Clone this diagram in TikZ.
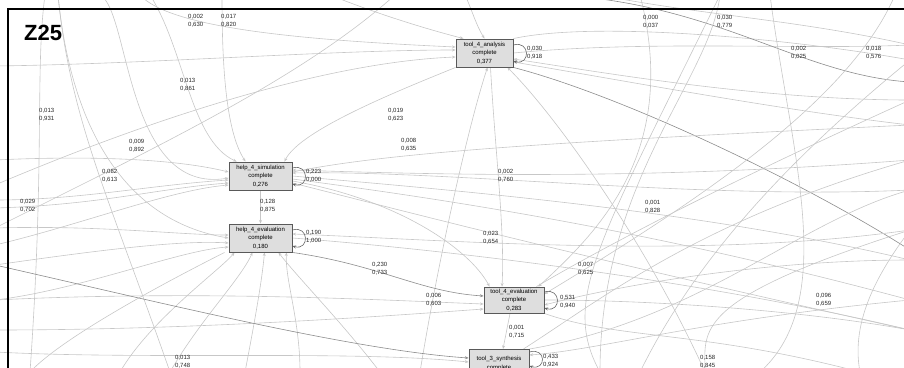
\documentclass[tikz,border=0pt]{standalone}
\usepackage{fontspec}
\setmainfont{Liberation Sans}
\usetikzlibrary{arrows.meta,backgrounds}

\begin{document}
\begin{tikzpicture}[x=1pt,y=-1pt,
  act/.style={draw=black!65,fill=black!13,line width=.9pt,minimum height=28pt,inner sep=0pt,align=center,font=\fontsize{6}{8.3}\selectfont},
  lbl/.style={anchor=north west,inner sep=0pt,align=left,text=black!85,font=\fontsize{6}{7.8}\selectfont},
  flow/.style={draw=black!22,line width=.6pt,-{Stealth[length=3.6pt,width=3pt]}},
  thru/.style={draw=black!22,line width=.6pt},
  dark/.style={draw=black!45},
  selfloop/.style={draw=black!60,line width=.6pt,-{Stealth[length=3.6pt,width=3pt]}}]
\path[use as bounding box] (0,0) rectangle (904,367);

% activities
\node[act,minimum width=57pt] (t4a) at (484.5,53) {tool\_4\_analysis\\complete\\0,377};
\node[act,minimum width=63pt] (h4s) at (260.5,176) {help\_4\_simulation\\complete\\0,276};
\node[act,minimum width=63pt] (h4e) at (260.5,238) {help\_4\_evaluation\\complete\\0,180};
\node[act,minimum width=60pt,minimum height=26pt] (t4e) at (514,300) {tool\_4\_evaluation\\complete\\0,283};
\node[act,minimum width=60pt,anchor=north] (t3s) at (499,349) {tool\_3\_synthesis\\complete};

% free ends outside the frame
\coordinate (n1) at (45,-5);   \coordinate (n2) at (58,-5);   \coordinate (n3) at (100,-5);
\coordinate (n4) at (140,-5);  \coordinate (n5) at (150,-5);  \coordinate (n6) at (222,-5);
\coordinate (n7) at (330,-5);  \coordinate (n8) at (395,-5);  \coordinate (n9) at (465,-5);
\coordinate (n10) at (560,-5); \coordinate (n11) at (640,-5); \coordinate (n12) at (720,-5);
\coordinate (n13) at (770,-5); \coordinate (n14) at (895,-5); \coordinate (n15) at (600,-5);
\coordinate (w1) at (-5,66);   \coordinate (w2) at (-5,130);  \coordinate (w3) at (-5,200);
\coordinate (w4) at (-5,208);  \coordinate (w5) at (-5,228);  \coordinate (w6) at (-5,245);
\coordinate (w7) at (-5,265);  \coordinate (w8) at (-5,300);  \coordinate (w9) at (-5,185);
\coordinate (w10) at (-5,330); \coordinate (w11) at (-5,352); \coordinate (w12) at (-5,160);
\coordinate (e1) at (910,45);  \coordinate (e2) at (910,82);  \coordinate (e3) at (910,100);
\coordinate (e4) at (910,125); \coordinate (e5) at (910,160); \coordinate (e6) at (910,190);
\coordinate (e7) at (910,230); \coordinate (e8) at (910,260); \coordinate (e9) at (910,300);
\coordinate (e10) at (910,330); \coordinate (e11) at (910,250); \coordinate (e12) at (910,60);
\coordinate (s1) at (30,372);  \coordinate (s2) at (120,372); \coordinate (s3) at (170,372);
\coordinate (s4) at (245,372); \coordinate (s5) at (300,372); \coordinate (s6) at (380,372);
\coordinate (s7) at (420,372); \coordinate (s8) at (600,372); \coordinate (s9) at (705,372);
\coordinate (s10) at (760,372); \coordinate (s11) at (860,372); \coordinate (s12) at (640,372);

\begin{pgfonlayer}{background}
% into tool_4_analysis
\draw[flow] (w1) .. controls (150,64) and (330,50) .. ([yshift=3pt]t4a.west);
\draw[flow] (n4) .. controls (170,28) and (300,40) .. ([yshift=6pt]t4a.west);
\draw[flow] (w9) .. controls (160,115) and (330,62) .. ([yshift=-4pt]t4a.west);
\draw[flow] (n7) .. controls (380,15) and (430,30) .. ([xshift=8pt]t4a.north west);
\draw[flow] (n9) .. controls (472,10) and (476,25) .. (t4a.north);
\draw[flow] (s7) .. controls (440,250) and (470,120) .. ([xshift=3pt]t4a.south);
\draw[flow] (s9) .. controls (650,250) and (560,120) .. ([xshift=-6pt]t4a.south east);
\draw[flow] (e3) .. controls (760,100) and (600,72) .. ([yshift=-6pt]t4a.east);
\draw[flow] (e4) .. controls (780,110) and (620,80) .. ([yshift=-9pt]t4a.east);
% out of tool_4_analysis
\draw[thru,dark] (t4a.south east) .. controls (620,95) and (800,180) .. (e11);
\draw[flow] ([xshift=6pt]t4a.south) .. controls (495,150) and (505,230) .. ([xshift=-12pt]t4e.north);
\draw[flow] (t4a.south west) .. controls (400,90) and (300,130) .. ([xshift=-8pt]h4s.north east);
\draw[thru] (t4a.east) .. controls (650,40) and (800,50) .. (e1);
\draw[thru] (t4a.north east) .. controls (600,20) and (800,40) .. (e12);
% across the top
\draw[thru,dark] (n10) .. controls (720,5) and (800,75) .. (e2);
\draw[thru] (n15) .. controls (700,15) and (800,20) .. (e1);
\draw[flow] (n11) .. controls (680,150) and (600,230) .. ([xshift=-6pt]t4e.north east);
\draw[thru] (n12) .. controls (710,80) and (600,180) .. (s8);
\draw[thru] (n13) .. controls (790,150) and (840,300) .. (s10);
\draw[flow] (n14) .. controls (850,100) and (700,200) .. ([yshift=6pt]t4e.east);
\draw[thru] (n8) .. controls (300,80) and (150,150) .. (w5);
\draw[thru] (n1) .. controls (35,70) and (45,160) .. (s1);
\draw[thru] (n2) .. controls (70,120) and (110,200) .. (s3);
% into help_4_simulation
\draw[flow] (w3) .. controls (80,200) and (150,185) .. ([yshift=-4pt]h4s.west);
\draw[flow] (w4) .. controls (100,205) and (160,188) .. ([yshift=-7pt]h4s.west);
\draw[flow] (n3) .. controls (130,10) and (125,195) .. ([yshift=-2pt]h4s.west);
\draw[flow] (n5) .. controls (185,50) and (190,140) .. ([xshift=8pt]h4s.north west);
\draw[flow] (n6) .. controls (222,60) and (225,130) .. ([xshift=-15pt]h4s.north);
\draw[flow] (w12) .. controls (100,155) and (180,160) .. ([yshift=4pt]h4s.west);
\draw[flow] (w6) .. controls (80,225) and (170,190) .. ([yshift=-9pt]h4s.west);
\draw[flow] (e6) .. controls (700,200) and (450,170) .. ([yshift=3pt]h4s.east);
\draw[flow] (e5) .. controls (650,180) and (450,175) .. ([yshift=6pt]h4s.east);
% out of help_4_simulation
\draw[flow] (h4s.south) -- (h4e.north);
\draw[thru] ([yshift=4pt]h4s.east) .. controls (400,150) and (600,140) .. (e4);
\draw[thru] (h4s.east) .. controls (450,190) and (700,210) .. (e8);
\draw[thru] ([yshift=-3pt]h4s.east) .. controls (450,200) and (650,230) .. (e9);
\draw[flow] ([yshift=-5pt]h4s.east) .. controls (400,200) and (470,250) .. ([xshift=6pt]t4e.north west);
\draw[thru] ([yshift=-7pt]h4s.east) .. controls (420,215) and (550,250) .. (e10);
% help_4_evaluation
\draw[flow] (n2) .. controls (70,120) and (120,220) .. (h4e.west);
\draw[flow] (w5) .. controls (100,225) and (180,235) .. ([yshift=3pt]h4e.west);
\draw[flow] (w7) .. controls (100,250) and (180,240) .. ([yshift=-5pt]h4e.west);
\draw[flow] (w8) .. controls (80,290) and (180,250) .. ([yshift=-9pt]h4e.west);
\draw[flow] (s2) .. controls (150,320) and (220,270) .. ([xshift=6pt]h4e.south west);
\draw[flow] (s3) .. controls (200,320) and (240,280) .. ([xshift=-8pt]h4e.south);
\draw[flow] (s4) .. controls (255,320) and (262,280) .. ([xshift=4pt]h4e.south);
\draw[flow] (s5) .. controls (300,320) and (285,280) .. ([xshift=-6pt]h4e.south east);
\draw[flow] (s6) .. controls (340,320) and (300,280) .. ([xshift=-14pt]h4e.south east);
\draw[thru] ([xshift=-4pt]h4e.south west) .. controls (150,290) and (60,340) .. (s1);
\draw[flow,dark] (h4e.south east) .. controls (380,265) and (420,292) .. ([yshift=4pt]t4e.west);
\draw[thru] (h4e.east) .. controls (450,250) and (700,280) .. (e10);
\draw[flow] (e7) .. controls (700,260) and (450,240) .. ([yshift=4pt]h4e.east);
% tool_4_evaluation
\draw[flow] ([xshift=-4pt]t4e.south) -- ([xshift=4pt]t3s.north);
\draw[flow] (w8) .. controls (200,290) and (380,300) .. ([yshift=-4pt]t4e.west);
\draw[flow] (w10) .. controls (200,330) and (400,315) .. ([yshift=-9pt]t4e.west);
\draw[thru] (t4e.east) .. controls (650,300) and (800,310) .. (e10);
\draw[flow] (e8) .. controls (750,260) and (600,290) .. ([yshift=-5pt]t4e.east);
\draw[thru] ([xshift=-8pt]t4e.north east) .. controls (650,220) and (800,150) .. (e3);
\draw[thru] (t4e.south east) .. controls (620,340) and (700,330) .. (s11);
% tool_3_synthesis
\draw[flow,dark] (w7) .. controls (150,300) and (350,350) .. ([yshift=-9pt]t3s.north west);
\draw[flow] (w11) .. controls (150,360) and (350,350) .. ([yshift=-13pt]t3s.north west);
\draw[flow] (e9) .. controls (700,320) and (600,350) .. ([yshift=-6pt]t3s.north east);
\draw[thru] (t3s.north east) .. controls (700,320) and (800,220) .. (e6);
\draw[thru] ([xshift=-6pt]t3s.north east) .. controls (600,300) and (700,220) .. (e5);
\draw[thru] (s12) .. controls (700,250) and (800,150) .. (e12);
\draw[thru] (s8) .. controls (560,300) and (600,240) .. (n12);
\draw[thru] (s9) .. controls (705,330) and (690,300) .. (e7);
\draw[thru] (s11) .. controls (850,320) and (880,270) .. (e7);
% self loops
\draw[selfloop] ([yshift=8pt]t4a.east) .. controls +(17,-5) and +(17,5) .. ([yshift=-8pt]t4a.east);
\draw[selfloop] ([yshift=8pt]h4s.east) .. controls +(17,-5) and +(17,5) .. ([yshift=-8pt]h4s.east);
\draw[selfloop] ([yshift=8pt]h4e.east) .. controls +(17,-5) and +(17,5) .. ([yshift=-8pt]h4e.east);
\draw[selfloop] ([yshift=8pt]t4e.east) .. controls +(17,-5) and +(17,5) .. ([yshift=-8pt]t4e.east);
\draw[selfloop] ([yshift=-3pt]t3s.north east) .. controls +(17,-5) and +(17,5) .. ([yshift=-17pt]t3s.north east);
\end{pgfonlayer}

% dependency / frequency values
\node[lbl] (l1) at (188,14) {0,002\\0,630};
\node[lbl] (l2) at (221,14) {0,017\\0,820};
\node[lbl] (l3) at (180,78) {0,013\\0,861};
\node[lbl] (l4) at (39,108) {0,013\\0,931};
\node[lbl] (l5) at (388,108) {0,019\\0,623};
\node[lbl] (l6) at (129,139) {0,009\\0,892};
\node[lbl] (l7) at (102,169) {0,082\\0,613};
\node[lbl] (l8) at (20,199) {0,029\\0,702};
\node[lbl] (l9) at (401,138) {0,008\\0,635};
\node[lbl] (l10) at (306,169) {0,223\\0,000};
\node[lbl] (l11) at (498,169) {0,002\\0,760};
\node[lbl] (l12) at (645,200) {0,001\\0,828};
\node[lbl] (l13) at (260,199) {0,128\\0,875};
\node[lbl] (l14) at (306,230) {0,190\\1,000};
\node[lbl] (l15) at (483,231) {0,023\\0,654};
\node[lbl] (l16) at (372,262) {0,230\\0,733};
\node[lbl] (l17) at (578,262) {0,007\\0,625};
\node[lbl] (l18) at (426,293) {0,006\\0,603};
\node[lbl] (l19) at (560,295) {0,531\\0,940};
\node[lbl] (l20) at (509,325) {0,001\\0,715};
\node[lbl] (l21) at (543,354) {0,433\\0,924};
\node[lbl] (l22) at (175,355) {0,013\\0,748};
\node[lbl] (l23) at (700,355) {0,158\\0,845};
\node[lbl] (l24) at (816,293) {0,096\\0,659};
\node[lbl] (l25) at (643,15) {0,000\\0,037};
\node[lbl] (l26) at (717,15) {0,030\\0,779};
\node[lbl] (l27) at (527,46) {0,030\\0,918};
\node[lbl] (l28) at (791,46) {0,002\\0,025};
\node[lbl] (l29) at (866,46) {0,018\\0,576};

% frame and title
\draw[line width=2pt] (8,370) -- (8,9) -- (906,9);
\node[anchor=west,inner sep=0pt,font=\bfseries\fontsize{22}{22}\selectfont] (title) at (24,33) {Z25};
\end{tikzpicture}
\end{document}
